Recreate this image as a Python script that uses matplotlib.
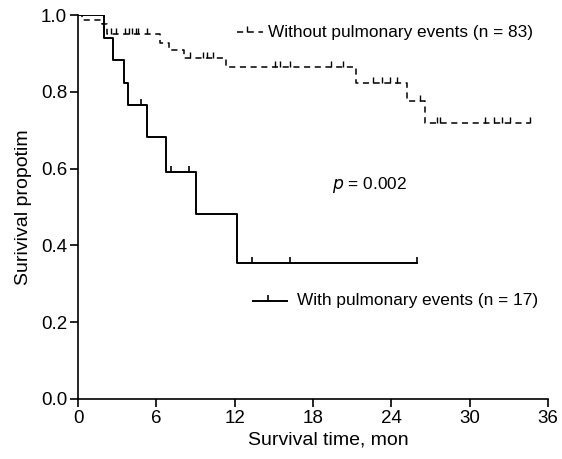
import numpy as np
import matplotlib
matplotlib.use("Agg")
import matplotlib.pyplot as plt
from matplotlib.path import Path

plt.rcParams['font.family'] = ['Liberation Sans', 'DejaVu Sans']

# with pulmonary events (n = 17)
with_t = [0, 2.0, 2.7, 3.5, 3.8, 5.3, 6.7, 9.0, 12.2, 26.0]
with_s = [1.0, 0.941, 0.882, 0.824, 0.765, 0.682, 0.591, 0.482, 0.355, 0.355]
with_cens = [4.8, 7.1, 8.5, 13.3, 16.2, 26.0]

# without pulmonary events (n = 83)
wo_t = [0, 0.3, 1.8, 2.2, 6.3, 7.0, 8.1, 11.3, 21.3, 25.2, 26.6, 34.6]
wo_s = [1.0, 0.988, 0.976, 0.952, 0.928, 0.91, 0.888, 0.865, 0.822, 0.777, 0.718, 0.718]
wo_cens = [2.5, 2.9, 3.6, 3.9, 4.1, 4.4, 4.6, 5.3, 8.6, 9.6, 9.9, 10.3,
           15.1, 15.5, 16.2, 19.4, 20.3, 22.6, 23.3, 23.9, 24.4, 26.2,
           27.5, 27.7, 31.2, 31.9, 32.5, 33.1, 34.6]

xticks = [0, 6, 12, 18, 24, 30, 36]
yticks = [0.0, 0.2, 0.4, 0.6, 0.8, 1.0]

# upward tick used for censored cases
up = Path([(0, 0), (0, 1)])


def surv_at(t, times, surv):
    i = np.searchsorted(times, t, side='right') - 1
    return np.asarray(surv)[i]


fig = plt.figure(figsize=(5.62, 4.59), dpi=100)
ax = fig.add_axes([0.139, 0.131, 0.836, 0.836])

ax.step(wo_t, wo_s, where='post', color='black', lw=1.1, ls=(0, (4, 3)))
ax.plot(wo_cens, surv_at(wo_cens, wo_t, wo_s), ls='none', marker=up,
        ms=8, mew=1.0, color='black')

ax.step(with_t, with_s, where='post', color='black', lw=1.4)
ax.plot(with_cens, surv_at(with_cens, with_t, with_s), ls='none', marker=up,
        ms=8, mew=1.2, color='black')

# legend entries
ax.plot([0.338, 0.393], [0.955, 0.955], transform=ax.transAxes, color='black',
        lw=1.1, ls=(0, (4, 3)))
ax.plot([0.36], [0.955], transform=ax.transAxes, ls='none', marker=up,
        ms=8, mew=1.0, color='black')
ax.text(0.405, 0.955, 'Without pulmonary events (n = 83)', transform=ax.transAxes,
        fontsize=12.4, va='center')
ax.plot([0.372, 0.445], [0.256, 0.256], transform=ax.transAxes, color='black', lw=1.4)
ax.plot([0.405], [0.256], transform=ax.transAxes, ls='none', marker=up,
        ms=8, mew=1.2, color='black')
ax.text(0.466, 0.256, 'With pulmonary events (n = 17)', transform=ax.transAxes,
        fontsize=12.4, va='center')

ax.text(0.54, 0.558, '$p$ = 0.002', transform=ax.transAxes, fontsize=12.4, va='center')

ax.set_xlim(0, 36)
ax.set_ylim(0, 1.0)
ax.set_xticks(xticks)
ax.set_yticks(yticks)
ax.set_yticklabels(['%.1f' % v for v in yticks])
ax.tick_params(direction='out', length=6, width=1.2, labelsize=13.5, pad=2)
for side in ['top', 'right']:
    ax.spines[side].set_visible(False)
for side in ['left', 'bottom']:
    ax.spines[side].set_linewidth(1.2)

ax.set_xlabel('Survival time, mon', fontsize=14, labelpad=3)
ax.xaxis.set_label_coords(0.532, -0.085)
ax.set_ylabel('Surivival propotim', fontsize=14, labelpad=6)

fig.savefig('out.png', dpi=100)
